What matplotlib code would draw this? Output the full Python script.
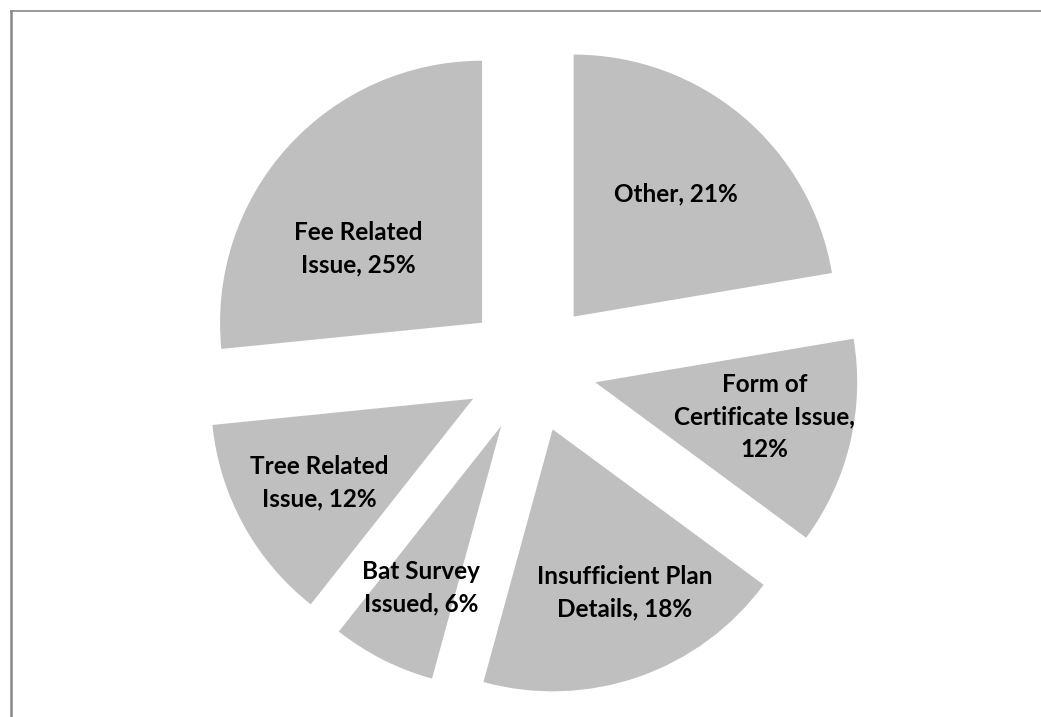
import numpy as np
import matplotlib.pyplot as plt
from matplotlib.lines import Line2D

# data
categories = ['Other', 'Form of Certificate Issue', 'Insufficient Plan Details',
              'Bat Survey Issued', 'Tree Related Issue', 'Fee Related Issue']
percent = [21, 12, 18, 6, 12, 25]
# how the labels wrap, as in the original chart
label_text = ['Other, 21%', 'Form of\nCertificate Issue,\n12%', 'Insufficient Plan\nDetails, 18%',
              'Bat Survey\nIssued, 6%', 'Tree Related\nIssue, 12%', 'Fee Related\nIssue, 25%']

# label placement (fraction of radius, angle shift in degrees from the wedge middle)
label_r = [0.61, 0.66, 0.68, 0.69, 0.67, 0.55]
label_da = [0.3, 1.7, 4.7, 0.4, -0.2, 11.4]

W, H = 1041, 717
fig = plt.figure(figsize=(W / 100, H / 100), dpi=100)
ax = fig.add_axes([0, 0, 1, 1])

wedges, _ = ax.pie(percent, startangle=90, counterclock=False,
                   colors=['#bfbfbf'] * len(percent),
                   radius=262, center=(531, 350),
                   explode=[66] * len(percent))
ax.set_xlim(0, W)
ax.set_ylim(0, H)
ax.set_aspect('equal')
ax.axis('off')

for w, txt, fr, da in zip(wedges, label_text, label_r, label_da):
    mid = np.deg2rad((w.theta1 + w.theta2) / 2 + da)
    x = w.center[0] + fr * w.r * np.cos(mid)
    y = w.center[1] + fr * w.r * np.sin(mid)
    ax.text(x, y, txt, ha='center', va='center', fontsize=17.5,
            fontweight='bold', family='Lato', linespacing=1.5, color='black')

# chart border (only top and left are visible)
fig.add_artist(Line2D([10.5 / W, 1], [1 - 11 / H, 1 - 11 / H], color='#888888', lw=1.2))
fig.add_artist(Line2D([11 / W, 11 / W], [0, 1 - 11 / H], color='#888888', lw=1.8))

fig.savefig('out.png', dpi=100)
